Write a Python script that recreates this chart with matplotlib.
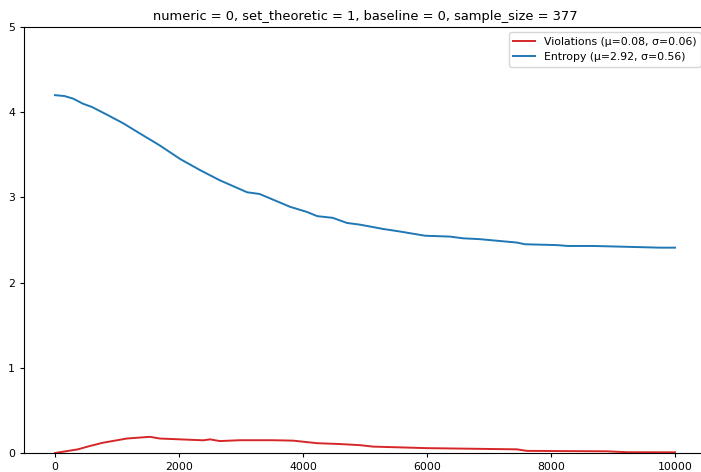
import numpy as np
import matplotlib.pyplot as plt

# values
steps_entropy = [0, 150, 290, 450, 600, 840, 1100, 1370, 1690, 2020, 2340, 2660, 3100, 3300,
                 3790, 4060, 4230, 4480, 4710, 4920, 5290, 5560, 5970, 6370, 6580,
                 6850, 7450, 7580, 8100, 8270, 8680, 9230, 9760, 10000]
entropy = [4.20, 4.19, 4.16, 4.10, 4.06, 3.97, 3.87, 3.75, 3.61, 3.45, 3.32, 3.20, 3.06, 3.04,
           2.89, 2.83, 2.78, 2.76, 2.70, 2.68, 2.63, 2.60, 2.55, 2.54, 2.52,
           2.51, 2.47, 2.45, 2.44, 2.43, 2.43, 2.42, 2.41, 2.41]

steps_viol = [0, 370, 520, 770, 1160, 1530, 1690, 2020, 2390, 2500, 2660, 2980,
              3520, 3840, 4230, 4600, 4920, 5130, 6000, 7450, 7610, 8900, 9230, 10000]
violations = [0.0, 0.043, 0.074, 0.12, 0.17, 0.19, 0.17, 0.16, 0.149, 0.16, 0.14, 0.15,
              0.15, 0.145, 0.115, 0.105, 0.092, 0.075, 0.057, 0.043, 0.025, 0.02, 0.009, 0.008]

title = 'numeric = 0, set_theoretic = 1, baseline = 0, sample_size = 377'
viol_label = 'Violations (\u03bc=0.08, \u03c3=0.06)'
ent_label = 'Entropy (\u03bc=2.92, \u03c3=0.56)'

fig = plt.figure(figsize=(7.01, 4.72), dpi=100)
ax = fig.add_axes([24 / 701, 19 / 472, 682 / 701, 426 / 472])

ax.plot(steps_viol, violations, color='#d62728', lw=1.4, label=viol_label)
ax.plot(steps_entropy, entropy, color='#1f77b4', lw=1.4, label=ent_label)

ax.set_ylim(0, 5)
ax.set_xticks(np.arange(0, 10001, 2000))
ax.set_yticks(range(6))
ax.tick_params(labelsize=7.8, length=3)
ax.spines['right'].set_visible(False)
ax.set_title(title, fontsize=9.4, pad=5)
ax.legend(loc='upper right', fontsize=7.8)

fig.savefig('out.png', dpi=100)
